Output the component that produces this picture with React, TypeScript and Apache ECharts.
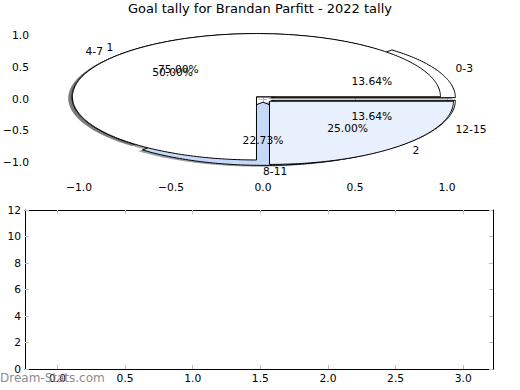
import React, { useEffect, useRef } from "react";
import * as echarts from "echarts";

const pie1Labels = ["0-3", "4-7", "8-11", "12-15"];
const pie1Values = [3, 11, 5, 3];
const pie2Labels = ["1", "2"];
const pie2Values = [3, 1];
const pieTicks = [-1, -0.5, 0, 0.5, 1];
const barXTicks = [0, 0.5, 1, 1.5, 2, 2.5, 3];
const barYTicks = [0, 2, 4, 6, 8, 10, 12];

const TITLE = "Goal tally for Brandan Parfitt - 2022 tally";
const FONT = "DejaVu Sans";
const pie1Colors = ["#ffffff", "#ffffff", "#c6d9f8", "#ffffff"];
const pie2Colors = ["#ffffff", "#e9f0fd"];
const EXPLODE = 0.05;
const SHADOW = -0.021;
const TICK_COLOR = "#bdbdbd";

type Wedge = {
  t1: number; t2: number; cx: number; cy: number; m: number;
  pct: number; label: string; color: string;
};

function buildWedges(values: number[], labels: string[], colors: string[]): Wedge[] {
  const total = values.reduce((a, b) => a + b, 0);
  let a = 0;
  return values.map((v, i) => {
    const t1 = a;
    const t2 = a + (360 * v) / total;
    a = t2;
    const m = ((t1 + t2) / 2) * Math.PI / 180;
    return {
      t1, t2, m,
      cx: EXPLODE * Math.cos(m),
      cy: EXPLODE * Math.sin(m),
      pct: (v / total) * 100,
      label: labels[i],
      color: colors[i],
    };
  });
}

function shade(hex: string): string {
  const r = parseInt(hex.slice(1, 3), 16) * 0.3;
  const g = parseInt(hex.slice(3, 5), 16) * 0.3;
  const b = parseInt(hex.slice(5, 7), 16) * 0.3;
  return `rgba(${Math.round(r)},${Math.round(g)},${Math.round(b)},0.5)`;
}

const fmt1 = (v: number) => (v < 0 ? "\u2212" : "") + Math.abs(v).toFixed(1);

export default function App() {
  const ref = useRef<HTMLDivElement>(null);
  useEffect(() => {
    document.body.style.margin = "0";
    if (!ref.current) return;
    const chart = echarts.init(ref.current, undefined, { renderer: "svg" });
    const w1 = buildWedges(pie1Values, pie1Labels, pie1Colors);
    const w2 = buildWedges(pie2Values, pie2Labels, pie2Colors);
    const all = [...w1, ...w2];

    const wedgePoints = (w: Wedge, api: any, off: number) => {
      const pts: number[][] = [];
      pts.push(api.coord([w.cx + off, w.cy + off]));
      const n = Math.max(2, Math.ceil(w.t2 - w.t1));
      for (let k = 0; k <= n; k++) {
        const t = ((w.t1 + ((w.t2 - w.t1) * k) / n) * Math.PI) / 180;
        pts.push(api.coord([w.cx + off + Math.cos(t), w.cy + off + Math.sin(t)]));
      }
      return pts;
    };

    const texts: { x: number; y: number; text: string; align: string }[] = [];
    all.forEach((w) => {
      const xt = w.cx + 1.1 * Math.cos(w.m);
      const yt = w.cy + 1.1 * Math.sin(w.m);
      texts.push({ x: xt, y: yt, text: w.label, align: xt > -1e-9 ? "left" : "right" });
      texts.push({
        x: w.cx + 0.6 * Math.cos(w.m),
        y: w.cy + 0.6 * Math.sin(w.m),
        text: w.pct.toFixed(2) + "%",
        align: "center",
      });
    });

    const tickCommon = { inside: true, length: 4, lineStyle: { color: TICK_COLOR, width: 1 } };
    const labelCommon = { color: "#000", fontFamily: FONT, fontSize: 10.7 };

    const wedgeSeries = (list: Wedge[], offsetIdx: number) => ({
      type: "custom",
      xAxisIndex: 0,
      yAxisIndex: 0,
      silent: true,
      data: list.map((_, i) => [0, 0, i + offsetIdx]),
      renderItem: (params: any, api: any) => {
        const w = all[api.value(2)];
        return {
          type: "polygon",
          shape: { points: wedgePoints(w, api, 0) },
          style: { fill: w.color, stroke: "#000", lineWidth: 1 },
        };
      },
    });

    chart.setOption({
      animation: false,
      title: {
        text: TITLE,
        left: "center",
        top: 2,
        padding: 0,
        textStyle: { fontFamily: FONT, fontSize: 13, fontWeight: "normal", color: "#000" },
      },
      grid: [
        { left: 25.5, top: 20, width: 467.5, height: 158, containLabel: false },
        { left: 25, top: 210, width: 468, height: 159, containLabel: false },
      ],
      xAxis: [
        {
          type: "value", gridIndex: 0, position: "bottom", min: -1.25, max: 1.25,
          axisLine: { show: false }, splitLine: { show: false },
          axisTick: { ...tickCommon, customValues: pieTicks },
          axisLabel: { ...labelCommon, margin: 4, customValues: pieTicks, formatter: fmt1 },
        },
        {
          type: "value", gridIndex: 0, position: "top", min: -1.25, max: 1.25,
          axisLine: { show: false }, splitLine: { show: false },
          axisTick: { ...tickCommon, customValues: pieTicks },
          axisLabel: { show: false },
        },
        {
          type: "value", gridIndex: 1, position: "bottom", min: -0.24, max: 3.22,
          axisLine: { show: true, onZero: false, lineStyle: { color: "#000", width: 1 } },
          splitLine: { show: false },
          axisTick: { ...tickCommon, customValues: barXTicks },
          axisLabel: { ...labelCommon, margin: 4, customValues: barXTicks, formatter: fmt1 },
        },
        {
          type: "value", gridIndex: 1, position: "top", min: -0.24, max: 3.22,
          axisLine: { show: true, onZero: false, lineStyle: { color: "#000", width: 1 } },
          splitLine: { show: false },
          axisTick: { ...tickCommon, customValues: barXTicks },
          axisLabel: { show: false },
        },
      ],
      yAxis: [
        {
          type: "value", gridIndex: 0, position: "left", min: -1.25, max: 1.25,
          axisLine: { show: false }, splitLine: { show: false },
          axisTick: { ...tickCommon, customValues: pieTicks },
          axisLabel: { ...labelCommon, margin: 4, customValues: pieTicks, formatter: fmt1 },
        },
        {
          type: "value", gridIndex: 0, position: "right", min: -1.25, max: 1.25,
          axisLine: { show: false }, splitLine: { show: false },
          axisTick: { ...tickCommon, customValues: pieTicks },
          axisLabel: { show: false },
        },
        {
          type: "value", gridIndex: 1, position: "left", min: 0, max: 12,
          axisLine: { show: true, onZero: false, lineStyle: { color: "#000", width: 1 } },
          splitLine: { show: false },
          axisTick: { ...tickCommon, customValues: barYTicks },
          axisLabel: {
            ...labelCommon, margin: 4, customValues: barYTicks,
            formatter: (v: number) => String(v),
          },
        },
        {
          type: "value", gridIndex: 1, position: "right", min: 0, max: 12,
          axisLine: { show: true, onZero: false, lineStyle: { color: "#000", width: 1 } },
          splitLine: { show: false },
          axisTick: { ...tickCommon, customValues: barYTicks },
          axisLabel: { show: false },
        },
      ],
      graphic: [
        {
          type: "text",
          left: 0,
          top: 372,
          z: 100,
          style: { text: "Dream-Stats.com", fill: "#8c8c8c", fontFamily: FONT, fontSize: 12 },
        },
      ],
      series: [
        {
          type: "custom",
          xAxisIndex: 0,
          yAxisIndex: 0,
          silent: true,
          data: all.map((_, i) => [0, 0, i]),
          renderItem: (params: any, api: any) => {
            const w = all[api.value(2)];
            return {
              type: "polygon",
              shape: { points: wedgePoints(w, api, SHADOW) },
              style: { fill: shade(w.color), stroke: "none" },
            };
          },
        },
        wedgeSeries(w1, 0),
        wedgeSeries(w2, w1.length),
        {
          type: "custom",
          xAxisIndex: 0,
          yAxisIndex: 0,
          silent: true,
          data: texts.map((t, i) => [t.x, t.y, i]),
          renderItem: (params: any, api: any) => {
            const t = texts[api.value(2)];
            const p = api.coord([t.x, t.y]);
            return {
              type: "text",
              x: p[0],
              y: p[1],
              style: {
                text: t.text,
                fill: "#000",
                fontFamily: FONT,
                fontSize: 10.7,
                align: t.align,
                verticalAlign: "middle",
              },
            };
          },
        },
        { type: "line", xAxisIndex: 2, yAxisIndex: 2, data: [] },
      ],
    });
    return () => chart.dispose();
  }, []);
  return <div ref={ref} style={{ width: 520, height: 390 }} />;
}
